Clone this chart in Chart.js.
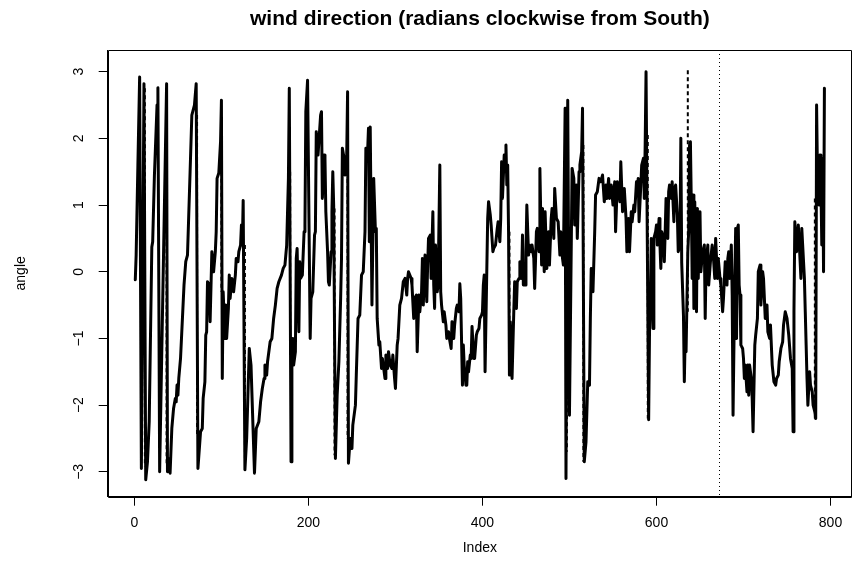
<!DOCTYPE html>
<html>
<head>
<meta charset="utf-8">
<script src="https://cdn.jsdelivr.net/npm/chart.js@4.4.1/dist/chart.umd.min.js"></script>
<style>
  html, body { margin: 0; padding: 0; background: #fff; }
  #chart { display: block; }
</style>
</head>
<body>
<canvas id="chart" width="852" height="570"></canvas>
<script>
var windIndex = [
  1, 2, 4, 6, 8, 11, 13, 15, 17, 20,
  21, 23, 26, 27, 29, 37, 38, 39, 41, 43,
  45, 47, 48, 49, 50, 51, 53, 57, 59, 61,
  64, 66, 69, 71, 73, 76, 78, 79, 81, 82,
  83, 84, 86, 87, 89, 91, 93, 94, 95, 97,
  99, 100, 101, 102, 104, 105, 106, 108, 109, 110,
  112, 114, 116, 117, 119, 120, 122, 123, 124, 125,
  127, 129, 132, 134, 135, 138, 140, 143, 145, 147,
  149, 150, 152, 153, 156, 158, 160, 162, 164, 166,
  169, 171, 173, 175, 177, 178, 180, 181, 182, 183,
  185, 186, 187, 189, 190, 191, 193, 195, 196, 197,
  199, 202, 203, 205, 207, 208, 209, 211, 212, 214,
  215, 216, 218, 219, 220, 222, 223, 224, 226, 227,
  228, 229, 231, 233, 235, 237, 238, 239, 241, 242,
  244, 245, 246, 248, 250, 251, 254, 255, 257, 259,
  261, 263, 265, 266, 268, 269, 270, 271, 273, 275,
  277, 278, 279, 281, 282, 284, 285, 286, 288, 289,
  291, 292, 294, 296, 297, 299, 300, 302, 303, 305,
  307, 309, 311, 313, 314, 315, 318, 319, 321, 322,
  324, 325, 327, 328, 330, 331, 332, 334, 336, 337,
  338, 340, 341, 343, 344, 345, 346, 348, 349, 351,
  352, 353, 355, 356, 358, 359, 361, 362, 364, 365,
  367, 368, 370, 371, 373, 374, 375, 377, 378, 379,
  381, 382, 383, 384, 386, 387, 388, 390, 391, 393,
  394, 396, 397, 399, 400, 401, 402, 403, 404, 406,
  407, 409, 410, 412, 413, 415, 417, 418, 420, 421,
  422, 423, 425, 426, 427, 428, 429, 430, 431, 432,
  434, 436, 437, 439, 440, 442, 443, 445, 446, 447,
  449, 450, 451, 453, 454, 456, 457, 459, 460, 462,
  463, 465, 466, 468, 469, 471, 472, 474, 476, 477,
  479, 480, 482, 483, 485, 487, 489, 490, 492, 493,
  495, 496, 498, 500, 503, 505, 506, 508, 509, 511,
  512, 514, 515, 517, 519, 520, 521, 523, 524, 525,
  527, 529, 530, 532, 534, 536, 538, 540, 542, 543,
  545, 546, 548, 550, 552, 553, 555, 556, 558, 559,
  561, 563, 565, 566, 568, 569, 571, 572, 574, 575,
  577, 578, 579, 580, 582, 583, 585, 586, 587, 588,
  591, 592, 593, 594, 596, 597, 599, 600, 601, 603,
  604, 605, 606, 608, 609, 610, 611, 613, 614, 615,
  617, 618, 620, 621, 622, 624, 625, 627, 628, 629,
  631, 632, 633, 634, 636, 637, 638, 639, 640, 641,
  642, 643, 644, 646, 647, 648, 650, 651, 653, 655,
  656, 657, 659, 660, 662, 664, 665, 667, 668, 670,
  671, 673, 674, 676, 677, 679, 681, 682, 683, 684,
  686, 687, 688, 690, 691, 692, 693, 694, 695, 696,
  697, 699, 700, 701, 702, 704, 705, 706, 707, 709,
  710, 711, 713, 714, 716, 717, 719, 720, 722, 723,
  725, 727, 728, 730, 731, 733, 735, 737, 738, 740,
  741, 743, 745, 746, 748, 750, 752, 754, 756, 757,
  758, 759, 761, 763, 764, 766, 767, 768, 770, 771,
  772, 773, 774, 776, 777, 779, 780, 782, 783, 784,
  785, 786, 787, 788, 789, 790, 791, 792, 793
];
var windAngle = [
  -0.12, 0.25, 1.6, 2.92, -2.95, 2.82, -3.12, -2.85, -2.25, 0.37,
  0.45, 1.45, 2.5, 2.76, -3.0, 2.82, -3.0, -2.8, -3.02, -2.35,
  -2.05, -1.9, -1.95, -1.7, -1.85, -1.6, -1.3, -0.2, 0.15, 0.25,
  1.5, 2.35, 2.5, 2.82, -2.95, -2.4, -2.35, -1.9, -1.65, -0.95,
  -0.9, -0.15, -0.2, -0.75, 0.3, 0.0, 0.3, 0.6, 1.4, 1.48,
  1.95, 2.57, -1.6, -0.3, -1.0, -0.5, -1.0, -0.55, -0.05, -0.4,
  -0.1, -0.3, -0.05, 0.2, 0.15, 0.3, 0.4, 0.7, 0.4, 1.07,
  -2.97, -2.5, -1.15, -1.4, -1.4, -3.02, -2.35, -2.25, -1.95, -1.75,
  -1.6, -1.4, -1.55, -1.35, -1.05, -1.0, -0.7, -0.5, -0.25, -0.15,
  -0.05, 0.05, 0.1, 0.4, 1.4, 2.75, -2.85, -1.05, -1.0, -1.4,
  -1.2, 0.2, 0.35, -0.9, 0.15, -0.1, -0.05, 0.6, 0.7, 2.4,
  2.87, -1.0, -0.4, -0.3, 0.55, 0.6, 2.1, 1.75, 1.75, 2.35,
  2.4, 1.1, 1.75, 1.7, 0.9, 0.3, -0.15, -0.2, 0.3, 0.9,
  1.5, 1.0, -2.8, -1.85, -1.35, -0.4, 0.2, 1.85, 1.7, 1.45,
  1.75, 2.7, -2.87, -2.5, -2.65, -2.3, -2.0, -1.55, -0.7, -0.65,
  -0.05, 0.0, 0.6, 1.85, 1.8, 2.15, 0.45, 2.17, -0.5, 1.4,
  0.6, 0.65, -0.7, -1.1, -1.05, -1.45, -1.3, -1.4, -1.6, -1.25,
  -1.45, -1.2, -1.4, -1.45, -1.25, -1.6, -1.75, -1.1, -1.0, -0.5,
  -0.4, -0.15, -0.1, -0.35, -0.1, 0.0, -0.1, -0.2, -0.7, -0.4,
  -0.35, -1.2, -0.35, -0.6, -0.3, 0.2, -0.5, 0.25, -0.45, 0.1,
  0.5, 0.55, -0.1, 0.9, -0.2, -0.55, 0.4, -0.3, -0.2, 1.6,
  -0.3, -0.5, -0.75, -0.6, -0.8, -1.0, -0.9, -1.0, -1.15, -0.75,
  -1.0, -0.8, -0.55, -0.5, -0.6, -0.18, -0.4, -1.7, -1.1, -1.4,
  -1.7, -1.7, -1.35, -1.5, -1.25, -1.3, -0.82, -1.3, -1.3, -0.95,
  -0.9, -0.85, -0.7, -0.65, -0.6, -0.2, -0.05, -1.5, -1.5, 0.8,
  1.05, 0.85, 0.7, 0.3, 0.35, 0.4, 0.65, 0.75, 0.45, 0.8,
  1.65, 1.1, 1.75, 1.5, 1.9, 1.3, 1.6, 0.6, -1.55, -0.75,
  -1.6, -0.6, -0.15, -0.55, -0.15, -0.1, 0.15, -0.1, 0.55, -0.2,
  -0.2, 0.3, 1.0, 0.25, 0.4, 0.3, 0.4, 0.2, -0.25, 0.6,
  0.65, 0.3, 1.55, 0.1, 0.95, 0.0, 0.9, 0.05, 0.6, 0.1,
  0.8, 0.95, 0.5, 1.25, 0.8, 0.75, 0.25, 0.6, 0.2, 0.1,
  2.45, -3.1, 2.57, -2.15, 1.55, 1.4, 0.7, 1.3, 0.5, 1.5,
  1.6, 1.8, 2.45, -2.85, -2.55, -2.55, -1.65, -1.7, -0.7, 0.05,
  -0.3, 0.6, 1.15, 1.2, 1.4, 1.35, 1.45, 1.05, 1.3, 1.1,
  1.4, 1.1, 1.3, 1.0, 1.35, 0.6, 1.35, 1.25, 1.05, 1.65,
  0.9, 1.25, 0.8, 0.3, 0.8, 0.3, 0.9, 0.75, 1.0, 0.9,
  1.35, 1.2, 1.4, 0.75, 1.3, 1.6, 1.7, 1.1, 1.9, 3.0,
  -2.22, -0.9, -0.4, 0.5, -0.85, 0.5, 0.6, 0.7, 0.4, 0.8,
  0.4, 0.05, 0.6, 0.5, 0.15, 0.6, 1.1, 0.5, 1.2, 1.3,
  1.1, 1.35, 0.75, 1.25, 1.3, 0.85, 0.3, 0.4, 2.0, 0.13,
  -0.65, -1.65, -0.95, -1.2, 0.3, 0.6, 1.9, 1.95, 1.05, -0.1,
  1.15, -0.55, 1.05, -0.6, 0.95, -0.1, 0.9, 0.0, 0.3, 0.4,
  -0.7, 0.15, 0.4, -0.2, 0.15, 0.4, 0.3, -0.1, 0.5, -0.1,
  0.2, -0.1, -0.2, -0.6, -0.4, 0.15, -0.2, 0.2, 0.3, -0.1,
  0.4, -0.35, -2.15, -0.1, 0.65, -1.0, 0.65, 0.7, -0.2, -0.35,
  -1.1, -1.15, -1.3, -1.6, -1.4, -1.8, -1.4, -1.85, -1.4, -1.6,
  -1.9, -2.4, -1.1, -0.95, -0.7, 0.0, 0.1, -0.5, 0.0, -0.1,
  -0.7, -0.5, -0.9, -1.0, -0.8, -1.4, -1.65, -1.7, -1.6, -1.55,
  -1.35, -1.15, -1.05, -0.8, -0.6, -0.7, -0.95, -1.3, -1.45, -2.4,
  -0.6, 0.75, 0.3, 0.7, 0.45, -0.1, 0.65, 0.4, -0.1, -0.6,
  -1.1, -1.6, -2.0, -1.5, -1.7, -1.8, -2.0, -2.1, -2.2, 2.5,
  1.5, 1.2, 1.0, 1.75, 1.3, 0.4, 1.7, 0.0, 2.75
];

// dashed series: only its wrap-around jumps show beside the solid line
var fitIndex  = [12, 37, 72, 100, 127, 179, 230, 245, 431, 497, 516, 590, 636, 782];
var fitTop    = [2.75, 2.75, 2.35, 1.5, 0.4, 1.5, 0.95, 1.6, 0.6, 2.15, 1.9, 2.05, 3.02, 1.1];
var fitBottom = [-2.92, -2.9, -2.45, -0.3, -2.8, -1.0, -2.75, -2.5, -0.75, -2.7, -2.85, -2.2, -0.6, -2.2];

// dotted vertical marker
var breakIndex = 672;

var xTicks = [0, 200, 400, 600, 800];
var yTicks = [-3, -2, -1, 0, 1, 2, 3];

var fam = "'Liberation Sans', Arial, Helvetica, sans-serif";

var observed = windIndex.map(function (x, i) {
  return { x: x, y: windAngle[i] };
});
var fitted = [];
fitIndex.forEach(function (x, i) {
  fitted.push({ x: x, y: fitTop[i] }, { x: x, y: fitBottom[i] }, { x: x, y: null });
});

// frame around the plot plus the dotted marker line
var framePlugin = {
  id: 'frame',
  afterDatasetsDraw: function (chart) {
    var a = chart.chartArea;
    var ctx = chart.ctx;
    var px = Math.round(chart.scales.x.getPixelForValue(breakIndex)) + 0.5;
    var l = Math.round(a.left) + 0.5, t = Math.round(a.top) + 0.5;
    var r = Math.min(Math.round(a.right), chart.width - 1) + 0.5, b = Math.round(a.bottom) + 0.5;
    ctx.save();
    ctx.strokeStyle = '#000';
    ctx.lineWidth = 1;
    ctx.setLineDash([1, 3]);
    ctx.beginPath();
    ctx.moveTo(px, a.top);
    ctx.lineTo(px, a.bottom);
    ctx.stroke();
    ctx.setLineDash([]);
    ctx.beginPath();
    ctx.moveTo(l, b);
    ctx.lineTo(l, t);
    ctx.lineTo(r, t);
    ctx.lineTo(r, b);
    ctx.lineTo(l, b);
    ctx.stroke();
    ctx.restore();
  }
};

var config = {
  type: 'line',
  data: {
    datasets: [{
      data: observed,
      borderColor: '#000',
      borderWidth: 3,
      pointRadius: 0,
      tension: 0,
      borderJoinStyle: 'round',
      borderCapStyle: 'round'
    }, {
      data: fitted,
      borderColor: '#000',
      borderWidth: 2,
      borderDash: [4, 3],
      pointRadius: 0,
      spanGaps: false
    }]
  },
  options: {
    responsive: false,
    animation: false,
    devicePixelRatio: 1,
    layout: {
      padding: { left: 0, right: 0, top: 0, bottom: 0 }
    },
    plugins: {
      legend: { display: false },
      tooltip: { enabled: false },
      title: {
        display: true,
        fullSize: false,
        text: 'wind direction (radians clockwise from South)',
        color: '#000',
        font: { family: fam, size: 21, weight: 'bold', lineHeight: 1.2 },
        padding: { top: 7, bottom: 17.8 }
      }
    },
    scales: {
      x: {
        type: 'linear',
        min: -30.7,
        max: 824.7,
        afterBuildTicks: function (scale) {
          scale.ticks = xTicks.map(function (v) { return { value: v }; });
        },
        afterFit: function (scale) { scale.height = 73.3; },
        ticks: {
          color: '#000',
          font: { family: fam, size: 14 },
          padding: 9,
          maxRotation: 0,
          autoSkip: false
        },
        grid: { drawOnChartArea: false, tickLength: 9, color: '#000' },
        border: { color: '#000' },
        title: {
          display: true,
          text: 'Index',
          color: '#000',
          font: { family: fam, size: 14 },
          padding: { top: 0, bottom: 13.6 }
        }
      },
      y: {
        min: -3.373,
        max: 3.325,
        afterBuildTicks: function (scale) {
          scale.ticks = yTicks.map(function (v) { return { value: v }; });
        },
        afterFit: function (scale) { scale.width = 107.7; },
        ticks: {
          color: '#000',
          font: { family: fam, size: 14 },
          minRotation: 90,
          maxRotation: 90,
          crossAlign: 'center',
          padding: 12,
          autoSkip: false,
          callback: function (v) { return v < 0 ? '\u2212' + Math.abs(v) : String(v); }
        },
        grid: { drawOnChartArea: false, tickLength: 9, color: '#000' },
        border: { color: '#000' },
        title: {
          display: true,
          text: 'angle',
          color: '#000',
          font: { family: fam, size: 14 },
          padding: { top: 13, bottom: 0 }
        }
      }
    }
  },
  plugins: [framePlugin]
};

window.onload = function () {
  var ctx = document.getElementById('chart').getContext('2d');
  window.windChart = new Chart(ctx, config);
};
</script>
</body>
</html>
